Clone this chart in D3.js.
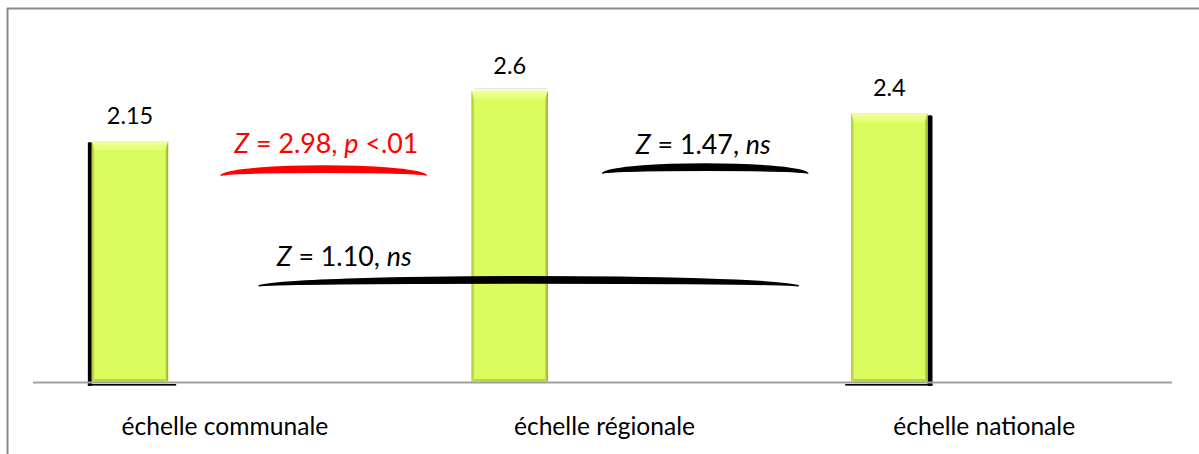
<!DOCTYPE html>
<html>
<head>
<meta charset="utf-8">
<script src="https://cdn.jsdelivr.net/npm/d3@7"></script>
<style>
  html, body { margin: 0; padding: 0; background: #fff; }
  svg { display: block; }
  text { font-family: Lato, "Open Sans", sans-serif; }
</style>
</head>
<body>
<svg id="chart" width="1199" height="454"></svg>
<script>
// ---- data ----
const categories = ["échelle communale", "échelle régionale", "échelle nationale"];
const values = [2.15, 2.6, 2.4];
const valueLabels = ["2.15", "2.6", "2.4"];

// comparisons: spans in bar-index units, levels in value units
const compParts = [
  [["Z", true], [" = 2.98, ", false], ["p", true], [" <.01", false]],
  [["Z", true], [" = 1.47, ", false], ["ns", true]],
  [["Z", true], [" = 1.10, ", false], ["ns", true]]
];
const compColors = ["#ff0000", "#000000", "#000000"];
const compFrom = [0.24, 1.245, 0.34];
const compTo = [0.78, 1.785, 1.76];
const compTextAt = [0.517, 1.51, 0.564];
const compTextLevel = [2.045, 2.035, 1.04];
const compCurveLevel = [1.848, 1.866, 0.86];

// ---- layout ----
const svg = d3.select("#chart");
const W = 1199, H = 454;
const baseY = 382;

const x = d3.scaleBand().domain(categories).range([33, 1172]).padding(0);
const y = d3.scaleLinear().domain([0, 3]).range([baseY, baseY - 336]);
const barOff = x.step() * 0.155;
const barW = x.step() * 0.201;
const barCenter = i => x(categories[i]) + barOff + barW / 2;
const xi = d3.scaleLinear().domain([0, 2]).range([barCenter(0), barCenter(2)]);

// gradients
const defs = svg.append("defs");
const gTop = defs.append("linearGradient").attr("id", "gTop").attr("x1", 0).attr("y1", 0).attr("x2", 0).attr("y2", 1);
gTop.append("stop").attr("offset", "0%").attr("stop-color", "#f3ff9e");
gTop.append("stop").attr("offset", "100%").attr("stop-color", "#e2ff70");
const gL = defs.append("linearGradient").attr("id", "gL").attr("x1", 0).attr("y1", 0).attr("x2", 1).attr("y2", 0);
gL.append("stop").attr("offset", "0%").attr("stop-color", "#a9c23c");
gL.append("stop").attr("offset", "100%").attr("stop-color", "#d2f256");
const gR = defs.append("linearGradient").attr("id", "gR").attr("x1", 0).attr("y1", 0).attr("x2", 1).attr("y2", 0);
gR.append("stop").attr("offset", "0%").attr("stop-color", "#d2f256");
gR.append("stop").attr("offset", "100%").attr("stop-color", "#8ea332");

// frame
svg.append("line").attr("x1", 7).attr("x2", W).attr("y1", 8.5).attr("y2", 8.5)
  .attr("stroke", "#8a8a8a").attr("stroke-width", 2);
svg.append("line").attr("x1", 7.5).attr("x2", 7.5).attr("y1", 8).attr("y2", H)
  .attr("stroke", "#8a8a8a").attr("stroke-width", 2);

// bar shadows (artifacts)
const shadowG = svg.append("g");
shadowG.append("rect").attr("x", x(categories[0]) + barOff - 4).attr("y", y(values[0]) + 1)
  .attr("width", 4).attr("height", baseY - y(values[0]) + 3).attr("rx", 1).attr("fill", "#000");
shadowG.append("rect").attr("x", x(categories[0]) + barOff - 4).attr("y", baseY + 2)
  .attr("width", barW + 12).attr("height", 1.6).attr("fill", "#000");
shadowG.append("rect").attr("x", x(categories[2]) + barOff + barW).attr("y", y(values[2]) + 2)
  .attr("width", 5).attr("height", baseY - y(values[2]) + 2).attr("rx", 1.5).attr("fill", "#000");
shadowG.append("rect").attr("x", x(categories[2]) + barOff - 6).attr("y", baseY + 2)
  .attr("width", barW + 11).attr("height", 1.6).attr("fill", "#000");
shadowG.append("rect").attr("x", x(categories[1]) + barOff + 3).attr("y", y(values[1]) - 2.5)
  .attr("width", barW - 3).attr("height", 1).attr("fill", "#dcdcdc");

// axis line
svg.append("line").attr("x1", x.range()[0]).attr("x2", x.range()[1])
  .attr("y1", baseY + 0.5).attr("y2", baseY + 0.5)
  .attr("stroke", "#a0a0a0").attr("stroke-width", 2);

// bars
const bars = svg.append("g").selectAll("g").data(values).join("g")
  .attr("transform", (d, i) => `translate(${x(categories[i]) + barOff},${y(d)})`);
bars.append("rect").attr("width", barW).attr("height", d => baseY - y(d)).attr("fill", "#dafc5c");
const bev = 9;
bars.append("path").attr("d", `M0,0 H${barW} L${barW - 3},${bev} H3 Z`).attr("fill", "url(#gTop)");
bars.append("path").attr("d", d => `M0,0 L3,${bev} V${baseY - y(d) - 3} L0,${baseY - y(d)} Z`).attr("fill", "url(#gL)");
bars.append("path").attr("d", d => `M${barW},0 L${barW - 3},${bev} V${baseY - y(d) - 3} L${barW},${baseY - y(d)} Z`).attr("fill", "url(#gR)");
bars.append("path").attr("d", d => `M0,${baseY - y(d)} L3,${baseY - y(d) - 3} H${barW - 3} L${barW},${baseY - y(d)} Z`).attr("fill", "#b9d448");

// value labels
svg.append("g").selectAll("text").data(values).join("text")
  .attr("x", (d, i) => barCenter(i)).attr("y", d => y(d) - 17)
  .attr("text-anchor", "middle").attr("font-size", 23.5).attr("fill", "#000")
  .text((d, i) => valueLabels[i]);

// category labels
svg.append("g").selectAll("text").data(categories).join("text")
  .attr("x", d => x(d) + x.bandwidth() / 2 + 2).attr("y", 435)
  .attr("text-anchor", "middle").attr("font-size", 24.6).attr("fill", "#000")
  .text(d => d);

// comparison curves
function crescent(x0, x1, ye) {
  const w = x1 - x0;
  const cTop = ye - 12, cBot = ye - 3.5;
  return `M${x0},${ye} C${x0 + 0.09 * w},${cTop} ${x1 - 0.09 * w},${cTop} ${x1},${ye}` +
         ` C${x1 - 0.09 * w},${cBot} ${x0 + 0.09 * w},${cBot} ${x0},${ye} Z`;
}
const comps = svg.append("g").selectAll("g").data(compParts).join("g");
comps.append("path")
  .attr("d", (d, i) => crescent(xi(compFrom[i]), xi(compTo[i]), y(compCurveLevel[i])))
  .attr("fill", (d, i) => compColors[i])
  .attr("stroke", (d, i) => compColors[i]).attr("stroke-width", 1.4).attr("stroke-linejoin", "round");
const ct = comps.append("text")
  .attr("x", (d, i) => xi(compTextAt[i])).attr("y", (d, i) => y(compTextLevel[i]))
  .attr("text-anchor", "middle").attr("font-size", 26.8)
  .attr("fill", (d, i) => compColors[i]);
ct.selectAll("tspan").data(d => d).join("tspan")
  .attr("font-style", p => p[1] ? "italic" : "normal")
  .text(p => p[0]);
</script>
</body>
</html>
